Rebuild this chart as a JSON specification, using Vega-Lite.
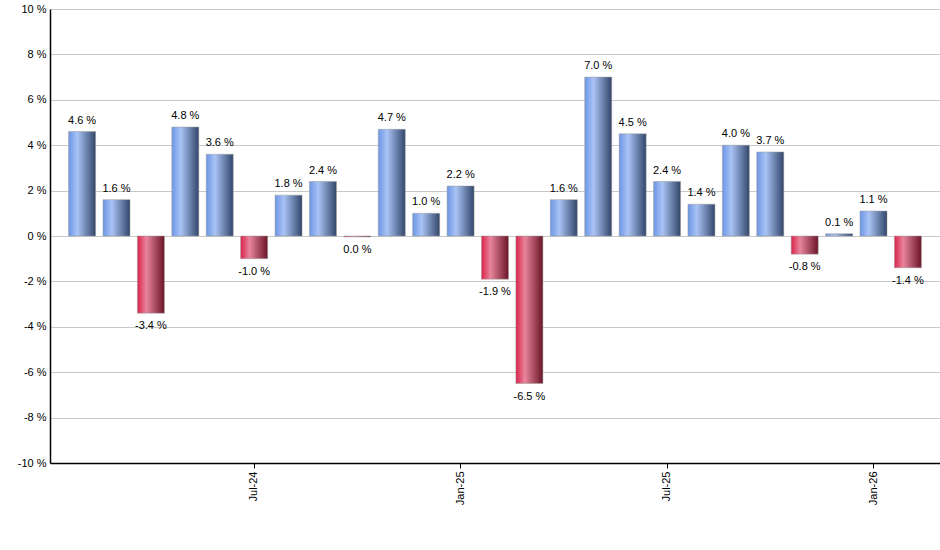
{
  "$schema": "https://vega.github.io/schema/vega-lite/v6.json",
  "width": 890,
  "height": 454,
  "autosize": {"type": "none"},
  "padding": {"left": 50, "top": 9, "right": 0, "bottom": 87},
  "background": "white",
  "config": {
    "font": "Liberation Sans",
    "view": {"stroke": null},
    "axis": {"labelFont": "Liberation Sans", "labelFontSize": 11, "labelColor": "black"}
  },
  "data": {
    "values": [
      {"month": "Feb-24", "value": 4.6, "label": "4.6 %"},
      {"month": "Mar-24", "value": 1.6, "label": "1.6 %"},
      {"month": "Apr-24", "value": -3.4, "label": "-3.4 %"},
      {"month": "May-24", "value": 4.8, "label": "4.8 %"},
      {"month": "Jun-24", "value": 3.6, "label": "3.6 %"},
      {"month": "Jul-24", "value": -1.0, "label": "-1.0 %"},
      {"month": "Aug-24", "value": 1.8, "label": "1.8 %"},
      {"month": "Sep-24", "value": 2.4, "label": "2.4 %"},
      {"month": "Oct-24", "value": -0.04, "label": "0.0 %"},
      {"month": "Nov-24", "value": 4.7, "label": "4.7 %"},
      {"month": "Dec-24", "value": 1.0, "label": "1.0 %"},
      {"month": "Jan-25", "value": 2.2, "label": "2.2 %"},
      {"month": "Feb-25", "value": -1.9, "label": "-1.9 %"},
      {"month": "Mar-25", "value": -6.5, "label": "-6.5 %"},
      {"month": "Apr-25", "value": 1.6, "label": "1.6 %"},
      {"month": "May-25", "value": 7.0, "label": "7.0 %"},
      {"month": "Jun-25", "value": 4.5, "label": "4.5 %"},
      {"month": "Jul-25", "value": 2.4, "label": "2.4 %"},
      {"month": "Aug-25", "value": 1.4, "label": "1.4 %"},
      {"month": "Sep-25", "value": 4.0, "label": "4.0 %"},
      {"month": "Oct-25", "value": 3.7, "label": "3.7 %"},
      {"month": "Nov-25", "value": -0.8, "label": "-0.8 %"},
      {"month": "Dec-25", "value": 0.1, "label": "0.1 %"},
      {"month": "Jan-26", "value": 1.1, "label": "1.1 %"},
      {"month": "Feb-26", "value": -1.4, "label": "-1.4 %"}
    ]
  },
  "encoding": {
    "x": {
      "field": "month",
      "type": "ordinal",
      "sort": null,
      "title": null,
      "scale": {
        "domain": ["Feb-24", "Mar-24", "Apr-24", "May-24", "Jun-24", "Jul-24", "Aug-24", "Sep-24", "Oct-24", "Nov-24", "Dec-24", "Jan-25", "Feb-25", "Mar-25", "Apr-25", "May-25", "Jun-25", "Jul-25", "Aug-25", "Sep-25", "Oct-25", "Nov-25", "Dec-25", "Jan-26", "Feb-26"],
        "paddingInner": 0.215,
        "paddingOuter": 0.54
      },
      "axis": {
        "values": ["Jul-24", "Jan-25", "Jul-25", "Jan-26"],
        "labelAngle": -90,
        "labelAlign": "right",
        "labelBaseline": "middle",
        "labelPadding": 3,
        "domainColor": "black",
        "domainWidth": 1.5,
        "tickColor": "black",
        "tickSize": 5,
        "grid": false
      }
    },
    "y": {
      "field": "value",
      "type": "quantitative",
      "title": null,
      "scale": {"domain": [-10, 10], "nice": false},
      "axis": {
        "values": [-10, -8, -6, -4, -2, 0, 2, 4, 6, 8, 10],
        "labelExpr": "datum.value + ' %'",
        "labelPadding": 4,
        "ticks": false,
        "domainColor": "black",
        "domainWidth": 1.5,
        "grid": true,
        "gridColor": "#c8c8c8",
        "gridWidth": 1
      }
    }
  },
  "layer": [
    {
      "transform": [{"filter": "datum.value > 0"}],
      "mark": {
        "type": "bar",
        "stroke": "#9a9a9a",
        "strokeWidth": 0.5,
        "fill": {
          "gradient": "linear", "x1": 0, "y1": 0, "x2": 1, "y2": 0,
          "stops": [
            {"offset": 0, "color": "#6c96e4"},
            {"offset": 0.33, "color": "#a9c3f5"},
            {"offset": 1, "color": "#32466a"}
          ]
        }
      },
      "encoding": {"y2": {"datum": 0}}
    },
    {
      "transform": [{"filter": "datum.value <= 0"}],
      "mark": {
        "type": "bar",
        "stroke": "#9a9a9a",
        "strokeWidth": 0.5,
        "fill": {
          "gradient": "linear", "x1": 0, "y1": 0, "x2": 1, "y2": 0,
          "stops": [
            {"offset": 0, "color": "#d9234a"},
            {"offset": 0.33, "color": "#e8859c"},
            {"offset": 1, "color": "#6a1527"}
          ]
        }
      },
      "encoding": {"y2": {"datum": 0}}
    },
    {
      "transform": [{"filter": "datum.value > 0"}],
      "mark": {"type": "text", "baseline": "bottom", "dy": -6, "fontSize": 11, "color": "black"},
      "encoding": {"text": {"field": "label"}}
    },
    {
      "transform": [{"filter": "datum.value <= 0"}],
      "mark": {"type": "text", "baseline": "top", "dy": 7, "fontSize": 11, "color": "black"},
      "encoding": {"text": {"field": "label"}}
    }
  ]
}
